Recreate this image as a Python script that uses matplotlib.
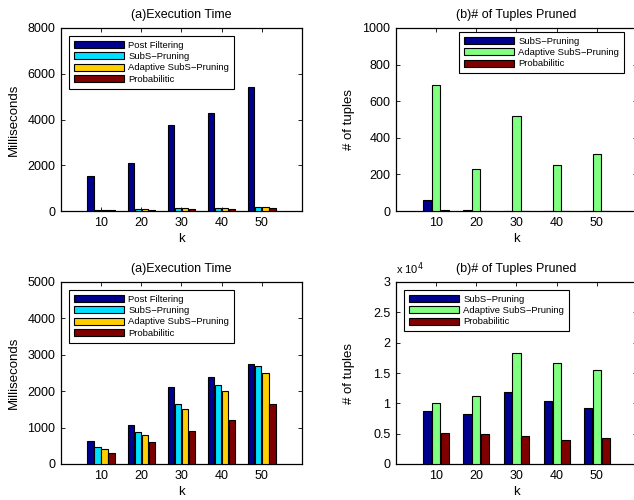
import matplotlib.pyplot as plt
import numpy as np

plt.rcParams['font.family'] = ['Liberation Sans', 'DejaVu Sans']

# x categories
k = [10, 20, 30, 40, 50]

# top-left: execution time (ms)
top_post = [1535, 2120, 3757, 4270, 5410]
top_subs = [50, 90, 120, 150, 170]
top_adapt = [45, 80, 110, 140, 165]
top_prob = [40, 60, 70, 100, 110]

# top-right: tuples pruned
top_subs_pr = [58, 3, 2, 2, 2]
top_adapt_pr = [689, 232, 519, 252, 313]
top_prob_pr = [6, 2, 2, 2, 2]

# bottom-left: execution time (ms)
bot_post = [641, 1080, 2106, 2400, 2738]
bot_subs = [467, 870, 1657, 2170, 2692]
bot_adapt = [412, 797, 1520, 1996, 2491]
bot_prob = [311, 595, 907, 1209, 1648]

# bottom-right: tuples pruned
bot_subs_pr = [8790, 8300, 11900, 10440, 9290]
bot_adapt_pr = [10100, 11260, 18240, 16700, 15500]
bot_prob_pr = [5050, 4890, 4560, 4000, 4230]

names4 = ['Post Filtering', 'SubS\u2212Pruning', 'Adaptive SubS\u2212Pruning', 'Probabilitic']
names3 = ['SubS\u2212Pruning', 'Adaptive SubS\u2212Pruning', 'Probabilitic']
colors4 = ['#00008F', '#00DFFF', '#FFCF00', '#800000']
colors3 = ['#00008F', '#80FF80', '#800000']


def grouped(ax, series, names, colors, step, ymax, yticks, ylabel, title, leg_xy):
    n = len(series)
    x = np.array(k, dtype=float)
    for i, vals in enumerate(series):
        off = (i - (n - 1) / 2) * step
        ax.bar(x + off, vals, width=step * 0.92, color=colors[i],
               edgecolor='black', linewidth=0.8, label=names[i], zorder=3)
    ax.set_xlim(0, 60)
    ax.set_ylim(0, ymax)
    ax.set_xticks(k)
    ax.set_yticks(yticks)
    ax.tick_params(direction='in', length=3, top=True, right=True,
                   labelsize=9, pad=4, width=0.6)
    for s in ax.spines.values():
        s.set_linewidth(0.9)
    ax.set_xlabel('k', fontsize=9.5, labelpad=3)
    ax.set_ylabel(ylabel, fontsize=9.5)
    ax.yaxis.set_label_coords(-0.17, 0.5)
    ax.set_title(title, fontsize=9, pad=7)
    leg = ax.legend(loc='upper left', bbox_to_anchor=leg_xy, borderaxespad=0,
                    fontsize=6.8, handlelength=5.3, handleheight=0.8,
                    labelspacing=0.25, handletextpad=0.5, borderpad=0.5,
                    fancybox=False, framealpha=1, edgecolor='black')
    leg.get_frame().set_linewidth(0.8)
    leg.set_zorder(5)


fig = plt.figure(figsize=(6.34, 5.0), dpi=100)
ax1 = fig.add_axes([0.0962, 0.578, 0.380, 0.366])
ax2 = fig.add_axes([0.6246, 0.578, 0.380, 0.366])
ax3 = fig.add_axes([0.0962, 0.072, 0.380, 0.364])
ax4 = fig.add_axes([0.6246, 0.072, 0.380, 0.364])

grouped(ax1, [top_post, top_subs, top_adapt, top_prob], names4, colors4, 1.75,
        8000, [0, 2000, 4000, 6000, 8000], 'Milliseconds', '(a)Execution Time',
        (0.033, 0.956))
grouped(ax2, [top_subs_pr, top_adapt_pr, top_prob_pr], names3, colors3, 2.2,
        1000, [0, 200, 400, 600, 800, 1000], '# of tuples', '(b)# of Tuples Pruned',
        (0.261, 0.978))
grouped(ax3, [bot_post, bot_subs, bot_adapt, bot_prob], names4, colors4, 1.75,
        5000, [0, 1000, 2000, 3000, 4000, 5000], 'Milliseconds', '(a)Execution Time',
        (0.033, 0.956))
grouped(ax4, [bot_subs_pr, bot_adapt_pr, bot_prob_pr], names3, colors3, 2.2,
        30000, [0, 5000, 10000, 15000, 20000, 25000, 30000], '# of tuples',
        '(b)# of Tuples Pruned', (0.033, 0.956))
ax4.set_yticklabels(['0', '0.5', '1', '1.5', '2', '2.5', '3'])
ax4.text(0.0, 1.03, r'x 10$^4$', transform=ax4.transAxes, fontsize=8,
         ha='left', va='bottom')

fig.savefig('out.png', dpi=100)
